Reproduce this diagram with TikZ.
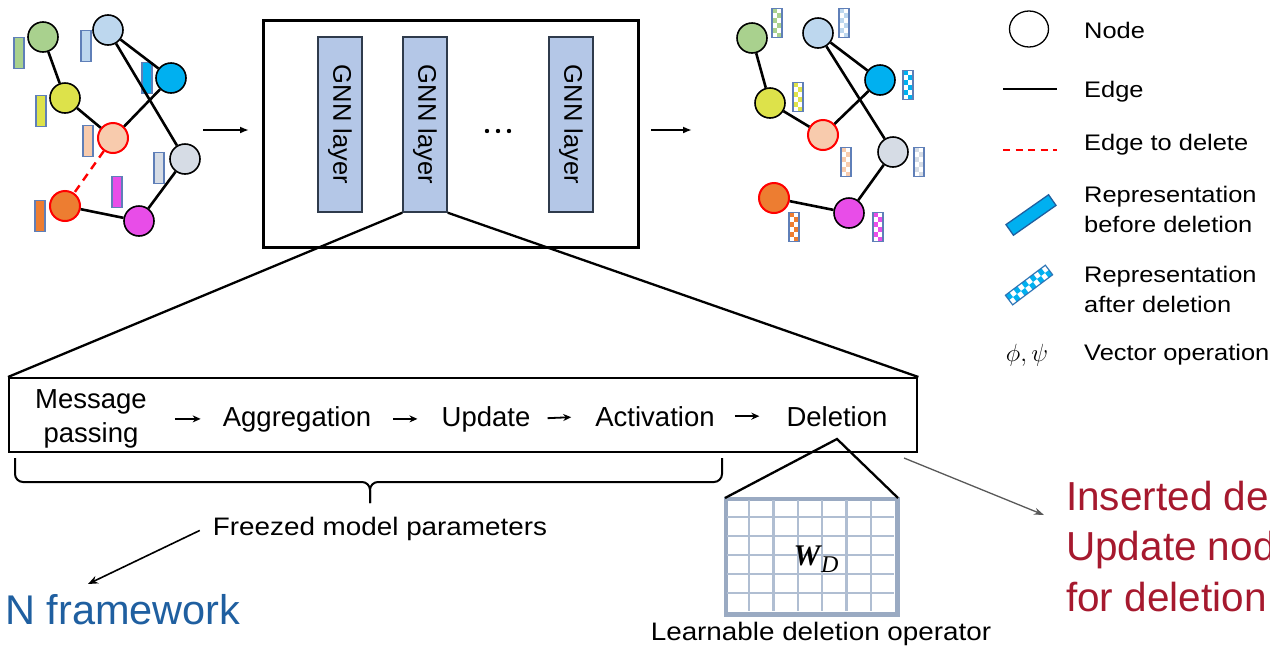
\documentclass[tikz,border=0pt]{standalone}
\usepackage{fontspec}
\setmainfont{Liberation Sans}
\newfontfamily\legfont[FakeStretch=1.13]{Liberation Sans}
\newfontfamily\frzfont[FakeStretch=1.1]{Liberation Sans}
\newfontfamily\wdfont{Liberation Serif}
\usetikzlibrary{arrows.meta,shapes.geometric}
\definecolor{cgreen}{HTML}{A9D18E}
\definecolor{clblue}{HTML}{BDD7EE}
\definecolor{cblue}{HTML}{00B0F0}
\definecolor{cyellow}{HTML}{DDE24A}
\definecolor{cpeach}{HTML}{F8CBAD}
\definecolor{cgray}{HTML}{D6DCE5}
\definecolor{corange}{HTML}{ED7D31}
\definecolor{cmag}{HTML}{E84DE8}
\definecolor{barbc}{HTML}{5F7FB8}
\definecolor{layerf}{HTML}{B4C7E7}
\definecolor{layerd}{HTML}{2F3B4C}
\definecolor{gridc}{HTML}{B0BED2}
\definecolor{gridb}{HTML}{9AAAC2}
\definecolor{redtxt}{HTML}{A6192E}
\definecolor{bluetxt}{HTML}{1F5FA0}
\definecolor{bdark}{HTML}{1F5F9F}
\definecolor{ckb}{HTML}{2E75B6}
\definecolor{garrow}{HTML}{595959}
\newcommand{\ckbar}[3]{%
\begin{scope}[shift={(#1,#2)}]
\foreach \j in {0,...,5}{\foreach \i in {0,1}{%
\pgfmathtruncatemacro{\kk}{\i+\j}%
\ifodd\kk\else\fill[#3] ({-5+5*\i},{-14.5+\j*29/6}) rectangle ++(5,{29/6});\fi}}
\draw[barbc,line width=1.3pt] (-5,-14.5) rectangle (5,14.5);
\end{scope}}
\begin{document}
\begin{tikzpicture}[x=1pt,y=-1pt,
  gnode/.style={circle,draw=black,line width=1.6pt,minimum size=30pt,inner sep=0pt},
  rnode/.style={gnode,draw=red,line width=2pt},
  edge/.style={line width=2.6pt},
  delEdge/.style={draw=red,line width=2.4pt,dash pattern=on 8pt off 6pt},
  fbar/.style={rectangle,draw=barbc,line width=1.3pt,minimum width=10pt,minimum height=31pt,inner sep=0pt},
  layerbox/.style={rectangle,draw=layerd,fill=layerf,line width=1.4pt,rotate=-90,minimum width=175pt,minimum height=44pt,inner sep=0pt,font=\fontsize{25.5}{26}\selectfont},
  bigbox/.style={rectangle,draw,line width=2.6pt,inner sep=0pt,anchor=north west},
  ptext/.style={inner sep=0pt,anchor=base,font=\fontsize{27.5}{30}\selectfont},
  parrow/.style={-{Stealth[length=8pt,width=7pt]},line width=1.8pt},
  conn/.style={-{Latex[length=9pt,width=7pt]},line width=1.8pt},
  zl/.style={line width=2.3pt},
  ftext/.style={inner sep=0pt,anchor=base,font=\frzfont\fontsize{25.3}{28}\selectfont},
  ltext/.style={inner sep=0pt,anchor=base west,font=\legfont\fontsize{22.5}{26}\selectfont},
  redt/.style={inner sep=0pt,anchor=base west,text=redtxt,font=\fontsize{40.5}{44}\selectfont},
  bluet/.style={inner sep=0pt,anchor=base west,text=bluetxt,font=\fontsize{41.5}{44}\selectfont}]
\useasboundingbox (0,0) rectangle (1270,646);
\clip (0,0) rectangle (1270,646);
\fill[white] (0,0) rectangle (1270,646);

% ---------- left graph ----------
\node[fbar,fill=cgreen]  (b1) at (19,53) {};
\node[fbar,fill=clblue]  (b2) at (86,46) {};
\node[fbar,fill=cblue]   (b3) at (147,78) {};
\node[fbar,fill=cyellow] (b4) at (41,111) {};
\node[fbar,fill=cpeach]  (b5) at (88,141) {};
\node[fbar,fill=cgray]   (b6) at (159,168) {};
\node[fbar,fill=cmag]    (b7) at (117,192) {};
\node[fbar,fill=corange] (b8) at (40,216) {};

\node[gnode,fill=cgreen]  (lg1) at (43,37) {};
\node[gnode,fill=clblue]  (lb1) at (108,30) {};
\node[gnode,fill=cblue]   (bl1) at (171,78) {};
\node[gnode,fill=cyellow] (ye1) at (65,98) {};
\node[rnode,fill=cpeach]  (pe1) at (113,138) {};
\node[gnode,fill=cgray]   (gr1) at (185,159) {};
\node[rnode,fill=corange] (or1) at (65,206) {};
\node[gnode,fill=cmag]    (ma1) at (139,221) {};
\draw[edge] (lg1) -- (ye1);
\draw[edge] (ye1) -- (pe1);
\draw[edge] (pe1) -- (bl1);
\draw[edge] (lb1) -- (bl1);
\draw[edge] (lb1) -- (gr1);
\draw[edge] (gr1) -- (ma1);
\draw[edge] (or1) -- (ma1);
\draw[delEdge] (pe1) -- (or1);

% ---------- arrows to/from GNN box ----------
\coordinate (a1s) at (203,130);
\coordinate (a1e) at (249,130);
\coordinate (a2s) at (651,130);
\coordinate (a2e) at (692,130);
\draw[conn] (a1s) -- (a1e);
\draw[conn] (a2s) -- (a2e);

% ---------- GNN box ----------
\node[bigbox,minimum width=375pt,minimum height=227pt] (gnnbox) at (262,19) {};
\node[layerbox] (l1) at (340,124.5) {GNN layer};
\node[layerbox] (l2) at (425,124.5) {GNN layer};
\node[layerbox] (l3) at (571,124.5) {GNN layer};
\fill (487,131) circle (2.2pt) (498,131) circle (2.2pt) (509,131) circle (2.2pt);

% ---------- right graph ----------
\ckbar{777}{23}{cgreen}
\ckbar{844}{23}{clblue}
\ckbar{908}{85}{cblue}
\ckbar{798}{97}{cyellow}
\ckbar{846}{162}{cpeach}
\ckbar{919}{162}{cgray}
\ckbar{794}{227}{corange}
\ckbar{878}{227}{cmag}
\node[gnode,fill=cgreen]  (lg2) at (752,38) {};
\node[gnode,fill=clblue]  (lb2) at (818,33) {};
\node[gnode,fill=cblue]   (bl2) at (880,80) {};
\node[gnode,fill=cyellow] (ye2) at (770,103) {};
\node[rnode,fill=cpeach]  (pe2) at (823,135) {};
\node[gnode,fill=cgray]   (gr2) at (893,152) {};
\node[rnode,fill=corange] (or2) at (774,198) {};
\node[gnode,fill=cmag]    (ma2) at (849,213) {};
\draw[edge] (lg2) -- (ye2);
\draw[edge] (ye2) -- (pe2);
\draw[edge] (pe2) -- (bl2);
\draw[edge] (lb2) -- (bl2);
\draw[edge] (lb2) -- (gr2);
\draw[edge] (gr2) -- (ma2);
\draw[edge] (or2) -- (ma2);

% ---------- pipeline ----------
\node[bigbox,line width=2.4pt,minimum width=908pt,minimum height=74pt] (pipe) at (8,377) {};
\draw[zl] (l2.south east) -- (pipe.north west);
\draw[zl] (l2.north east) -- (pipe.north east);
\node[ptext] (msg1) at (91,408) {Message};
\node[ptext] (msg2) at (91,442) {passing};
\node[ptext] (agg) at (297,426) {Aggregation};
\node[ptext] (upd) at (486,426) {Update};
\node[ptext] (act) at (655,426) {Activation};
\node[ptext] (del) at (837,426) {Deletion};
\draw[parrow,shorten <=28pt,shorten >=22pt] (msg1.east |- agg.center) -- (agg.west);
\draw[parrow,shorten <=22pt,shorten >=24pt] (agg.east) -- (upd.west);
\draw[parrow,shorten <=17pt,shorten >=24pt] (upd.east) -- (act.west);
\draw[parrow,shorten <=20pt,shorten >=27pt] (act.east) -- (del.west);

% brace
\draw[line width=2pt,rounded corners=8pt] (15,458) -- (15,482) -- (370,482) -- (370,503);
\draw[line width=2pt,rounded corners=8pt] (722,458) -- (722,482) -- (370,482) -- (370,503);
\node[ftext] (frz) at (380,535) {Freezed model parameters};
\coordinate (fwtip) at (88,584);
\draw[-{Stealth[length=10pt,width=8pt]},line width=1.6pt] ([xshift=-13pt,yshift=-2pt]frz.west) -- (fwtip);
\node[bluet] (fw) at (5,624) {N framework};

% ---------- deletion operator ----------
\node[rectangle,draw=gridb,fill=white,line width=3pt,minimum width=170pt,minimum height=114pt,inner sep=0pt,anchor=north west] (grid) at (725,498) {};
\foreach \k in {1,...,6} \draw[gridc,line width=2.2pt] ({725+\k*170/7},499.5) -- ({725+\k*170/7},610.5);
\foreach \k in {1,...,5} \draw[gridc,line width=2.2pt] (726.5,{498+\k*19}) -- (893.5,{498+\k*19});
\draw[gridb,line width=3pt] (grid.north west) rectangle (grid.south east);
\node[inner sep=0pt] (wd) at (816,559) {\wdfont\fontsize{30}{30}\selectfont\bfseries\itshape W\kern1pt\raisebox{-7pt}{\mdseries\fontsize{24}{24}\selectfont D}};
\coordinate (apex) at (837,439);
\draw[zl] (grid.north west) -- (apex) -- (grid.north east);
\node[ftext] (ldo) at (821,640) {Learnable deletion operator};
\coordinate (gas) at (904,458);
\coordinate (gae) at (1044,515);
\draw[garrow,-{Stealth[length=10pt,width=7pt]},line width=1.3pt] (gas) -- (gae);
\node[redt] (ins1) at (1066,510) {Inserted deletion operator};
\node[redt] (ins2) at (1066,560) {Update node representations};
\node[redt] (ins3) at (1066,611) {for deletion};

% ---------- legend ----------
\node[ellipse,draw,line width=1.3pt,minimum width=39pt,minimum height=36pt,inner sep=0pt] (lnode) at (1029,29) {};
\node[ltext] (tnode) at (1084,38) {Node};
\coordinate (le1) at (1003,89);
\coordinate (le2) at (1057,89);
\draw[line width=2.3pt] (le1) -- (le2);
\node[ltext] (tedge) at (1084,97) {Edge};
\coordinate (ld1) at (1003,150);
\coordinate (ld2) at (1057,150);
\draw[red,line width=2pt,dash pattern=on 7pt off 5.5pt] (ld1) -- (ld2);
\node[ltext] (tdel) at (1084,150) {Edge to delete};
\node[rectangle,draw=bdark,fill=cblue,rotate=35,minimum width=52pt,minimum height=13pt,inner sep=0pt,line width=1.3pt] (lrep1) at (1031,215) {};
\node[ltext] (trep1a) at (1084,202) {Representation};
\node[ltext] (trep1b) at (1084,232) {before deletion};
\begin{scope}[shift={(1029,285)},rotate=37]
\foreach \i in {0,...,9}{\foreach \j in {0,1}{%
\pgfmathtruncatemacro{\kk}{\i+\j}%
\ifodd\kk\else\fill[cblue] ({-25+5*\i},{-6+6*\j}) rectangle ++(5,6);\fi}}
\draw[ckb,line width=1.2pt] (-25,-6) rectangle (25,6);
\end{scope}
\node[ltext] (trep2a) at (1084,282) {Representation};
\node[ltext] (trep2b) at (1084,312) {after deletion};
\node[inner sep=0pt,anchor=base] (phi) at (1027,361) {\fontsize{28}{30}\selectfont$\phi,\psi$};
\node[ltext] (tvec) at (1084,360) {Vector operation};
\end{tikzpicture}
\end{document}
